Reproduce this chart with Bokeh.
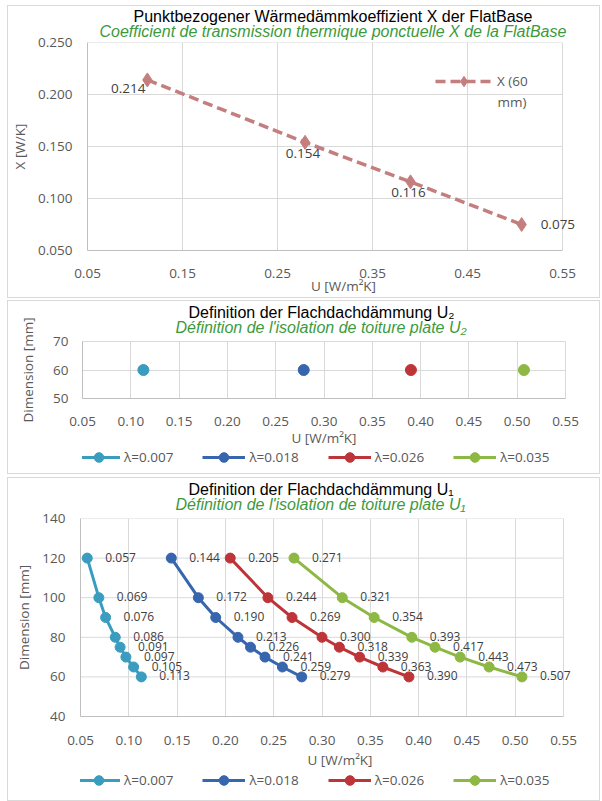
from bokeh.plotting import figure
from bokeh.models import (Range1d, FixedTicker, NumeralTickFormatter, Legend, LegendItem,
                          LabelSet, Label, ColumnDataSource, Title, Spacer)
from bokeh.layouts import column, row
from bokeh.embed import file_html
from bokeh.resources import INLINE
from bokeh.core.properties import value

# ---------------- data ----------------
chi_u = [0.113, 0.279, 0.390, 0.507]
chi_x = [0.214, 0.154, 0.116, 0.075]
chi_series = ["X (60", "mm)"]          # legend text, wrapped on two lines
chi_xticks = [0.05, 0.15, 0.25, 0.35, 0.45, 0.55]
chi_yticks = [0.05, 0.10, 0.15, 0.20, 0.25]

series_names = ["λ=0.007", "λ=0.018", "λ=0.026", "λ=0.035"]
u2_u = [0.113, 0.279, 0.390, 0.507]
u2_dim = [60, 60, 60, 60]
u2_yticks = [50, 60, 70]

u1_dim = [120, 100, 90, 80, 75, 70, 65, 60]
u1_l007 = [0.057, 0.069, 0.076, 0.086, 0.091, 0.097, 0.105, 0.113]
u1_l018 = [0.144, 0.172, 0.190, 0.213, 0.226, 0.241, 0.259, 0.279]
u1_l026 = [0.205, 0.244, 0.269, 0.300, 0.318, 0.339, 0.363, 0.390]
u1_l035 = [0.271, 0.321, 0.354, 0.393, 0.417, 0.443, 0.473, 0.507]
u1_yticks = [40, 60, 80, 100, 120, 140]

u_ticks = [0.05, 0.10, 0.15, 0.20, 0.25, 0.30, 0.35, 0.40, 0.45, 0.50, 0.55]
U_MIN, U_MAX = 0.05, 0.55

title1_de = "Punktbezogener Wärmedämmkoeffizient X der FlatBase"
title1_fr = "Coefficient de transmission thermique ponctuelle X de la FlatBase"
title2_de = "Definition der Flachdachdämmung U₂"
title2_fr = "Définition de l'isolation de toiture plate U₂"
title3_de = "Definition der Flachdachdämmung U₁"
title3_fr = "Définition de l'isolation de toiture plate U₁"
xlab = "U [W/m²K]"
ylab1 = "X [W/K]"
ylab2 = "Dimension [mm]"

# ---------------- styles ----------------
W = 591
TICK_FONT = "Open Sans"
TICK_SIZE = "13.5px"
TICK_COLOR = "#595959"
GRID = "#D9D9D9"
AXIS = "#BFBFBF"
GREEN = "#3C9A3C"
ROSE = "#C47E7E"
COLORS = ["#3A9DBF", "#3766AE", "#BD3539", "#8DB843"]
PANEL = {"outline": "1px solid #D9D9D9"}
TH = 17.5  # approx. title text box height


def base_fig(height, left, right, top, bottom, xr, yr, styles=None):
    kw = dict(styles=styles) if styles else {}
    p = figure(width=W, height=height, output_backend="svg", toolbar_location=None,
               x_range=Range1d(*xr), y_range=Range1d(*yr),
               min_border_left=left, min_border_right=right,
               min_border_top=top, min_border_bottom=bottom, **kw)
    p.outline_line_color = GRID
    p.border_fill_color = "white"
    for g in (p.xgrid, p.ygrid):
        g.grid_line_color = GRID
        g.grid_line_width = 1
    for ax in (p.xaxis, p.yaxis):
        ax.axis_line_color = AXIS
        ax.major_tick_line_color = None
        ax.minor_tick_line_color = None
        ax.major_tick_out = 0
        ax.major_tick_in = 0
        ax.major_label_text_font = TICK_FONT
        ax.major_label_text_font_size = TICK_SIZE
        ax.major_label_text_color = TICK_COLOR
        ax.axis_label_text_font = TICK_FONT
        ax.axis_label_text_font_size = TICK_SIZE
        ax.axis_label_text_color = TICK_COLOR
        ax.axis_label_text_font_style = "normal"
    return p


def set_ticks(p, xt, yt, xfmt, yfmt):
    p.xaxis.ticker = FixedTicker(ticks=xt)
    p.yaxis.ticker = FixedTicker(ticks=yt)
    p.xgrid.ticker = FixedTicker(ticks=xt)
    p.ygrid.ticker = FixedTicker(ticks=yt)
    p.xaxis.formatter = NumeralTickFormatter(format=xfmt)
    p.yaxis.formatter = NumeralTickFormatter(format=yfmt)


def open_right(p, yt):
    """frame continues to the right of U_MAX (room for labels); grid box drawn up to U_MAX"""
    p.outline_line_color = None
    p.ygrid.grid_line_color = None
    p.xaxis.bounds = (U_MIN, U_MAX)
    p.segment(x0=[U_MIN] * len(yt), x1=[U_MAX] * len(yt), y0=yt, y1=yt,
              line_color=GRID, line_width=1, level="underlay")


def add_titles(p, de, fr, F, gc, bc, off_de, off_fr):
    hg = 2 * (F - gc)
    hb = 2 * (F - hg - bc)
    p.add_layout(Title(text=fr, align="left", offset=off_fr, vertical_align="middle",
                       standoff=hg - 2 - TH, text_font="Liberation Sans",
                       text_font_size="16px", text_font_style="italic",
                       text_color=GREEN), "above")
    p.add_layout(Title(text=de, align="left", offset=off_de, vertical_align="middle",
                       standoff=hb - 2 - TH, text_font="Liberation Sans",
                       text_font_size="16px", text_font_style="normal",
                       text_color="black"), "above")


def legend_strip(height, series_u, series_d, loc_x, loc_y, size):
    f = figure(width=W, height=height, output_backend="svg", toolbar_location=None,
               x_range=Range1d(0, 1), y_range=Range1d(0, 1),
               x_axis_type=None, y_axis_type=None,
               min_border_left=0, min_border_right=0, min_border_top=0, min_border_bottom=0)
    f.outline_line_color = None
    items = []
    for i, name in enumerate(series_names):
        # series drawn here only to provide the legend glyphs (outside the visible range)
        lr = f.line(series_u[i], series_d[i], line_color=COLORS[i], line_width=3)
        sr = f.scatter(series_u[i], series_d[i], marker="circle", size=size,
                       fill_color=COLORS[i], line_color=COLORS[i])
        items.append(LegendItem(label=name, renderers=[lr, sr]))
    lg = Legend(items=items, orientation="horizontal", location=(loc_x, loc_y),
                spacing=29, label_standoff=4, glyph_width=43, glyph_height=24,
                padding=0, margin=0, border_line_color=None, background_fill_alpha=0,
                label_text_font=TICK_FONT, label_text_font_size=TICK_SIZE,
                label_text_color=TICK_COLOR)
    f.add_layout(lg)
    return f


# ---------------- panel 1 ----------------
x_end1 = U_MIN + (U_MAX - U_MIN) * 512 / 475
p1 = base_fig(291, 79, 0, 36, 46, (U_MIN, x_end1), (0.05, 0.25), styles=PANEL)
set_ticks(p1, chi_xticks, chi_yticks, "0.00", "0.000")
open_right(p1, chi_yticks)
p1.xaxis.axis_label = xlab
p1.yaxis.axis_label = ylab1
p1.xaxis.major_label_standoff = 18
p1.xaxis.axis_label_standoff = -4
p1.yaxis.major_label_standoff = 15
p1.yaxis.axis_label_standoff = 6

l1 = p1.line(chi_u, chi_x, line_color=ROSE, line_width=3.5, line_dash="10 5")
s1 = p1.scatter(chi_u, chi_x, marker="diamond", size=14, fill_color=ROSE, line_color=ROSE)

placement = ["left", "below", "below", "right"]
place_style = {
    "left": dict(text_align="right", x_offset=-2, y_offset=-9),
    "below": dict(text_align="center", x_offset=-2, y_offset=-11),
    "right": dict(text_align="left", x_offset=19, y_offset=0),
}
for pos, st in place_style.items():
    idx = [i for i, q in enumerate(placement) if q == pos]
    src = ColumnDataSource(dict(u=[chi_u[i] for i in idx], v=[chi_x[i] for i in idx],
                                t=[f"{chi_x[i]:.3f}" for i in idx]))
    p1.add_layout(LabelSet(x="u", y="v", text="t", source=src, text_baseline="middle",
                           text_font=value(TICK_FONT), text_font_size="13.5px",
                           text_color="#404040", **st))

lg1 = Legend(items=[LegendItem(label=chi_series[0], renderers=[l1, s1])], location=(348, 156),
             glyph_width=57, glyph_height=26, label_standoff=5, padding=0, margin=0,
             border_line_color=None, background_fill_alpha=0,
             label_text_font=TICK_FONT, label_text_font_size=TICK_SIZE,
             label_text_color=TICK_COLOR)
p1.add_layout(lg1)
# second (wrapped) line of the legend text
p1.add_layout(Label(x=489, y=95, x_units="canvas", y_units="canvas", text=chi_series[1],
                    text_align="left", text_baseline="middle", text_font=TICK_FONT,
                    text_font_size=TICK_SIZE, text_color=TICK_COLOR))
add_titles(p1, title1_de, title1_fr, 36, 25, 10, 46, 12)

# ---------------- panel 2 ----------------
p2 = base_fig(148, 74, 34, 40, 50, (U_MIN, U_MAX), (50, 70))
set_ticks(p2, u_ticks, u2_yticks, "0.00", "0")
p2.xaxis.axis_label = xlab
p2.yaxis.axis_label = ylab2
p2.xaxis.major_label_standoff = 18
p2.xaxis.axis_label_standoff = 0
p2.yaxis.major_label_standoff = 14
p2.yaxis.axis_label_standoff = 13
for i in range(len(series_names)):
    p2.scatter([u2_u[i]], [u2_dim[i]], marker="circle", size=11,
               fill_color=COLORS[i], line_color=COLORS[i])
add_titles(p2, title2_de, title2_fr, 40, 26, 11, 106, 93)
foot2 = legend_strip(24, [[v] for v in u2_u], [[d] for d in u2_dim], -5, 4, 11)
panel2 = column(p2, foot2, styles=PANEL)

# ---------------- panel 3 ----------------
x_end3 = U_MIN + (U_MAX - U_MIN) * 519 / 483
p3 = base_fig(293, 72, 0, 40, 54, (U_MIN, x_end3), (40, 140))
set_ticks(p3, u_ticks, u1_yticks, "0.00", "0")
open_right(p3, u1_yticks)
p3.xaxis.axis_label = xlab
p3.yaxis.axis_label = ylab2
p3.xaxis.major_label_standoff = 19
p3.xaxis.axis_label_standoff = 3
p3.yaxis.major_label_standoff = 15
p3.yaxis.axis_label_standoff = 6
u1_series = [u1_l007, u1_l018, u1_l026, u1_l035]
for i, vals in enumerate(u1_series):
    p3.line(vals, u1_dim, line_color=COLORS[i], line_width=3)
    p3.scatter(vals, u1_dim, marker="circle", size=10,
               fill_color=COLORS[i], line_color=COLORS[i])
    src = ColumnDataSource(dict(u=vals, d=u1_dim, t=[f"{v:.3f}" for v in vals]))
    p3.add_layout(LabelSet(x="u", y="d", text="t", source=src, x_offset=18, y_offset=1,
                           text_align="left", text_baseline="middle",
                           text_font=value(TICK_FONT), text_font_size="12px",
                           text_color="#404040"))
add_titles(p3, title3_de, title3_fr, 40, 26, 11, 108, 95)
foot3 = legend_strip(29, u1_series, [u1_dim] * 4, -3, 8, 10)
panel3 = column(p3, foot3, styles=PANEL)

layout = row(Spacer(width=8),
             column(Spacer(height=6), p1, Spacer(height=4), panel2, Spacer(height=5), panel3))
open("out.html", "w").write(file_html(layout, INLINE))
